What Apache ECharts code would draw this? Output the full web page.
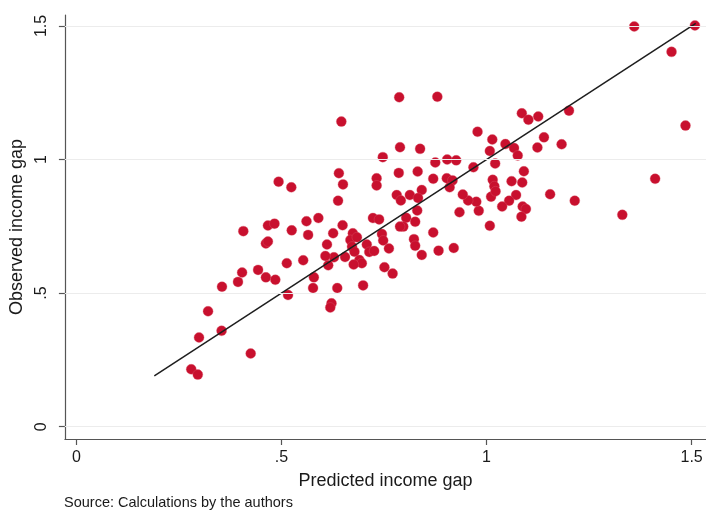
<!DOCTYPE html>
<html>
<head>
<meta charset="utf-8">
<script src="https://cdn.jsdelivr.net/npm/echarts@6/dist/echarts.min.js"></script>
<style>
  html, body { margin: 0; padding: 0; background: #fff; }
  #chart { width: 706px; height: 510px; }
</style>
</head>
<body>
<div id="chart"></div>
<script>
// Predicted vs observed income gap, one point per country/region
const predicted = [
  1.508, 1.360, 1.451, 1.485, 1.201, 1.411, 1.331, 1.215, 1.155, 1.086,
  1.102, 1.126, 1.140, 1.183, 1.124, 1.046, 1.067, 1.076, 1.014, 0.978,
  1.008, 1.021, 0.968, 1.091, 1.061, 1.087, 1.015, 1.019, 1.072, 1.055,
  1.038, 1.088, 1.096, 1.085, 1.011, 1.022, 1.008, 0.981, 0.934, 0.975,
  0.955, 0.942, 0.903, 0.917, 0.910, 0.870, 0.832, 0.786, 0.732, 0.732,
  0.747, 0.789, 0.838, 0.875, 0.904, 0.926, 0.787, 0.880, 0.646, 0.640,
  0.650, 0.638, 0.781, 0.791, 0.813, 0.842, 0.833, 0.831, 0.804, 0.826,
  0.797, 0.870, 0.823, 0.826, 0.842, 0.883, 0.920, 0.771, 0.723, 0.738,
  0.789, 0.745, 0.748, 0.762, 0.708, 0.714, 0.726, 0.751, 0.699, 0.674,
  0.668, 0.684, 0.672, 0.678, 0.690, 0.696, 0.676, 0.655, 0.628, 0.607,
  0.614, 0.611, 0.626, 0.649, 0.561, 0.590, 0.525, 0.565, 0.553, 0.513,
  0.579, 0.577, 0.636, 0.516, 0.622, 0.619, 0.524, 0.493, 0.407, 0.467,
  0.483, 0.462, 0.467, 0.443, 0.404, 0.394, 0.462, 0.485, 0.355, 0.321,
  0.354, 0.299, 0.425, 0.280, 0.296
];
const observed = [
  1.502, 1.498, 1.403, 1.127, 1.183, 0.928, 0.793, 0.846, 0.870, 1.173,
  1.149, 1.161, 1.083, 1.057, 1.045, 1.058, 1.043, 1.015, 1.075, 1.104,
  1.032, 0.985, 0.971, 0.956, 0.919, 0.914, 0.924, 0.900, 0.867, 0.846,
  0.824, 0.824, 0.815, 0.786, 0.861, 0.881, 0.752, 0.808, 0.803, 0.842,
  0.847, 0.869, 0.930, 0.922, 0.896, 0.928, 0.955, 0.950, 0.930, 0.903,
  1.009, 1.046, 1.040, 0.989, 1.000, 0.997, 1.233, 1.235, 1.142, 0.949,
  0.907, 0.846, 0.867, 0.847, 0.867, 0.886, 0.856, 0.809, 0.782, 0.767,
  0.749, 0.727, 0.702, 0.677, 0.643, 0.659, 0.669, 0.573, 0.781, 0.776,
  0.749, 0.721, 0.697, 0.667, 0.682, 0.654, 0.658, 0.597, 0.529, 0.724,
  0.699, 0.709, 0.674, 0.655, 0.624, 0.612, 0.607, 0.635, 0.634, 0.639,
  0.604, 0.682, 0.724, 0.754, 0.769, 0.781, 0.735, 0.718, 0.623, 0.612,
  0.559, 0.519, 0.519, 0.493, 0.462, 0.446, 0.896, 0.917, 0.732, 0.753,
  0.760, 0.686, 0.693, 0.587, 0.577, 0.542, 0.559, 0.550, 0.524, 0.432,
  0.359, 0.334, 0.274, 0.215, 0.195
];

// Fitted line (45-degree line over the range of the data)
const fitX = [0.19, 1.51];
const fitY = [0.19, 1.51];

// Axis ticks and horizontal reference lines
const xTicks = [0, 0.5, 1, 1.5];
const yTicks = [0, 0.5, 1, 1.5];

const fmt = v => {
  const s = String(Math.round(v * 100) / 100);
  return s.replace(/^0\./, '.');
};

const points = predicted.map((x, i) => [x, observed[i]]);
const fitLine = fitX.map((x, i) => [x, fitY[i]]);

const FONT = '"Liberation Sans", Arial, Helvetica, sans-serif';
const AXIS_COLOR = '#555';
const TEXT_COLOR = '#1a1a1a';

const chart = echarts.init(document.getElementById('chart'), null, { renderer: 'canvas' });
chart.setOption({
  animation: false,
  backgroundColor: '#fff',
  grid: { left: 61, right: 0, top: 15, bottom: 71, containLabel: false },
  xAxis: {
    type: 'value',
    min: -0.028,
    max: 1.535,
    name: 'Predicted income gap',
    nameLocation: 'middle',
    nameGap: 33,
    nameTextStyle: { fontFamily: FONT, fontSize: 18, color: TEXT_COLOR },
    axisLine: { show: true, onZero: false, lineStyle: { color: AXIS_COLOR, width: 1.2 } },
    axisTick: { show: true, length: 6, customValues: xTicks, lineStyle: { color: AXIS_COLOR, width: 1.2 } },
    axisLabel: { customValues: xTicks, formatter: fmt, fontFamily: FONT, fontSize: 16, color: TEXT_COLOR, margin: 11 },
    splitLine: { show: false }
  },
  yAxis: {
    type: 'value',
    min: -0.046,
    max: 1.541,
    name: 'Observed income gap',
    nameLocation: 'middle',
    nameGap: 37,
    nameTextStyle: { fontFamily: FONT, fontSize: 18, color: TEXT_COLOR },
    axisLine: { show: true, onZero: false, lineStyle: { color: AXIS_COLOR, width: 1.2 } },
    axisTick: { show: true, length: 6, customValues: yTicks, lineStyle: { color: AXIS_COLOR, width: 1.2 } },
    axisLabel: { customValues: yTicks, formatter: fmt, rotate: 90, fontFamily: FONT, fontSize: 16, color: TEXT_COLOR, margin: 15 },
    splitLine: { show: false }
  },
  series: [
    {
      // horizontal reference lines behind the points
      type: 'line',
      data: [],
      z: 1,
      silent: true,
      markLine: {
        silent: true,
        symbol: 'none',
        label: { show: false },
        lineStyle: { color: '#ececec', width: 1.2, type: 'solid' },
        data: yTicks.map(v => ({ yAxis: v }))
      }
    },
    {
      type: 'scatter',
      data: points,
      symbol: 'circle',
      symbolSize: 10,
      z: 2,
      itemStyle: { color: '#c8102e', borderColor: 'rgba(220,90,110,0.6)', borderWidth: 0.6, opacity: 1 }
    },
    {
      type: 'line',
      data: fitLine,
      z: 3,
      symbol: 'none',
      lineStyle: { color: '#1e1e1e', width: 1.5 }
    }
  ],
  graphic: [
    {
      type: 'text',
      left: 64,
      top: 495,
      style: { text: 'Source: Calculations by the authors', font: '14.5px ' + FONT, fill: TEXT_COLOR }
    }
  ]
});
</script>
</body>
</html>
